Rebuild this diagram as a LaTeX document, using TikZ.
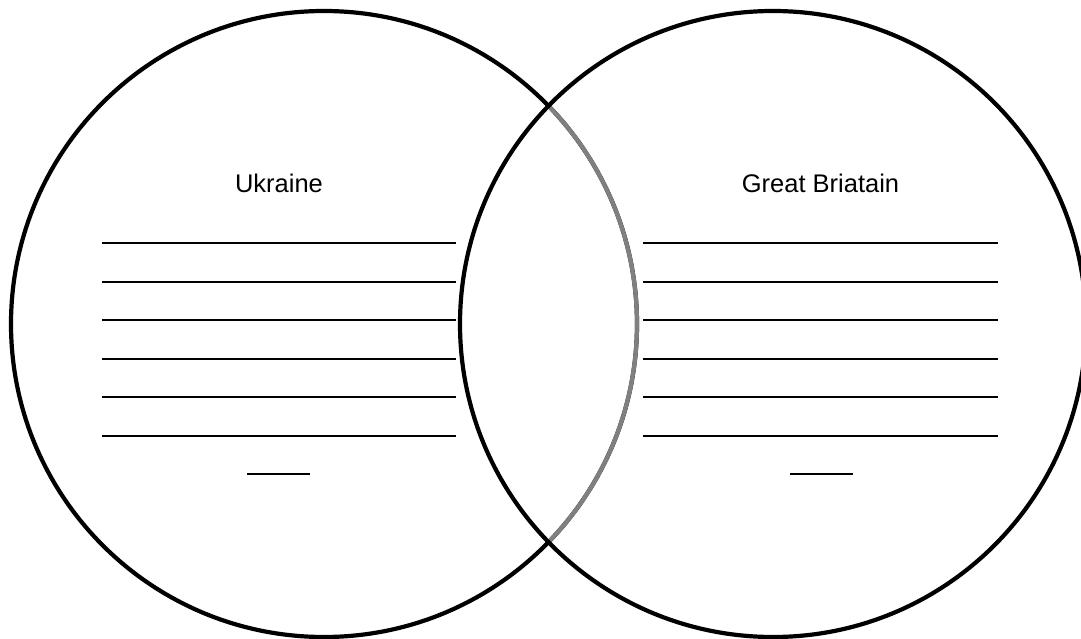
\documentclass[tikz,border=0pt]{standalone}
\usepackage{fontspec}
\setmainfont{Liberation Sans}
\begin{document}
\begin{tikzpicture}[x=1pt,y=-1pt,
  ring/.style={draw=black,line width=4.2pt},
  inner/.style={draw=black!50,line width=4.2pt},
  title/.style={font=\fontsize{25.5}{30}\selectfont,anchor=base,inner sep=0pt},
  rule/.style={draw=black,line width=2.3pt}]
\useasboundingbox (0,0) rectangle (1081,639);
\clip (0,0) rectangle (1081,639);
% left circle
\draw[ring] (324,324) circle[radius=313];
% gray part of left circle inside the right circle
\draw[inner] (324,324) ++(-44.2:313) arc[start angle=-44.2,end angle=44.2,radius=313];
% right circle
\draw[ring] (773,324) circle[radius=313];
% titles
\node[title] (uk) at (279,193) {Ukraine};
\node[title] (gb) at (820.5,193) {Great Briatain};
% writing lines
\foreach \y in {243,282,320,359,397,436}{
  \draw[rule] (102,\y) -- (456,\y);
  \draw[rule] (643,\y) -- (998,\y);
}
\draw[rule] (247,474) -- (310,474);
\draw[rule] (790,474) -- (853,474);
\end{tikzpicture}
\end{document}
